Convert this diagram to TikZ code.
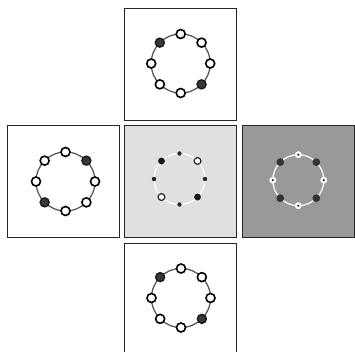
\documentclass[tikz,border=0pt]{standalone}
\usetikzlibrary{calc}
\begin{document}
\begin{tikzpicture}[x=1pt,y=-1pt,
  panel/.style={draw=black!85,line width=1pt},
  ring/.style={draw=black!65,line width=1.3pt},
  wring/.style={draw=white,line width=1.2pt},
  opennode/.style={circle,draw=black,fill=white,line width=1.6pt,minimum size=9pt,inner sep=0pt},
  darknode/.style={circle,draw=black!90,fill=black!78,line width=1.4pt,minimum size=9pt,inner sep=0pt},
  smalldot/.style={circle,fill=black!85,minimum size=4.4pt,inner sep=0pt},
  bigdot/.style={circle,fill=black!90,minimum size=6.8pt,inner sep=0pt},
  ringdot/.style={circle,draw=black!85,fill=white,line width=1.2pt,minimum size=6.8pt,inner sep=0pt},
  wdot/.style={circle,draw=white,fill=white,minimum size=6.4pt,inner sep=0pt},
  cdot/.style={circle,fill=black,minimum size=2.2pt,inner sep=0pt},
  gdot/.style={circle,draw=black!80,fill=black!80,line width=0.6pt,minimum size=7pt,inner sep=0pt}
]
\useasboundingbox (0,0) rectangle (355,352);
\clip (0,0) rectangle (355,352);
% panels
\draw[panel] (124.5,9) rectangle (236.5,121);
\draw[panel] (7.5,126) rectangle (119.5,237.5);
\draw[panel,fill=black!12] (124.5,126) rectangle (236.5,237.5);
\draw[panel,fill=black!40] (242,126) rectangle (354,237.5);
\draw[panel] (124.5,243.5) rectangle (236.5,356);

% top panel
\coordinate (tc) at (180.7,63.5);
\draw[ring] (tc) circle (29.5);
\foreach \a/\n in {90/t1,45/t2,0/t3,-90/t5,-135/t6,180/t7}
  \node[opennode] (\n) at ($(tc)+(\a:29.5 and -29.5)$) {};
\node[darknode] (t8) at ($(tc)+(135:29.5 and -29.5)$) {};
\node[darknode] (t4) at ($(tc)+(-45:29.5 and -29.5)$) {};

% left panel
\coordinate (lc) at (65.5,181.5);
\draw[ring] (lc) circle (29.5);
\foreach \a/\n in {90/l1,135/l2,0/l3,-90/l5,-45/l6,180/l7}
  \node[opennode] (\n) at ($(lc)+(\a:29.5 and -29.5)$) {};
\node[darknode] (l8) at ($(lc)+(45:29.5 and -29.5)$) {};
\node[darknode] (l4) at ($(lc)+(-135:29.5 and -29.5)$) {};

% center panel
\coordinate (cc) at (179.5,179);
\draw[wring] (cc) circle (25.5);
\foreach \a/\n in {90/c1,0/c3,-90/c5,180/c7}
  \node[smalldot] (\n) at ($(cc)+(\a:25.5 and -25.5)$) {};
\node[bigdot] (c8) at ($(cc)+(135:25.5 and -25.5)$) {};
\node[bigdot] (c4) at ($(cc)+(-45:25.5 and -25.5)$) {};
\node[ringdot] (c2) at ($(cc)+(45:25.5 and -25.5)$) {};
\node[ringdot] (c6) at ($(cc)+(-135:25.5 and -25.5)$) {};

% right panel
\coordinate (rc) at (298.3,180.2);
\draw[wring] (rc) circle (25.5);
\foreach \a/\n in {90/r1,0/r3,-90/r5,180/r7}{
  \node[wdot] (\n) at ($(rc)+(\a:25.5 and -25.5)$) {};
  \node[cdot] (\n d) at (\n) {};
}
\foreach \a/\n in {45/r2,135/r8,-45/r4,-135/r6}
  \node[gdot] (\n) at ($(rc)+(\a:25.5 and -25.5)$) {};

% bottom panel
\coordinate (bc) at (181,298);
\draw[ring] (bc) circle (29.5);
\foreach \a/\n in {90/b1,45/b2,0/b3,-90/b5,-135/b6,180/b7}
  \node[opennode] (\n) at ($(bc)+(\a:29.5 and -29.5)$) {};
\node[darknode] (b8) at ($(bc)+(135:29.5 and -29.5)$) {};
\node[darknode] (b4) at ($(bc)+(-45:29.5 and -29.5)$) {};
\end{tikzpicture}
\end{document}
